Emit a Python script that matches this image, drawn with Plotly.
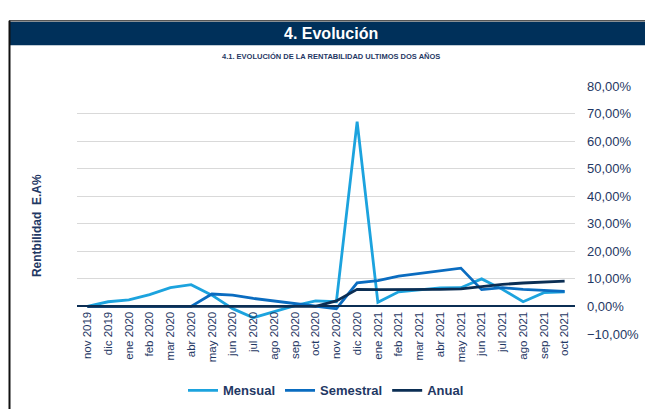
import plotly.graph_objects as go

categories = ["nov 2019", "dic 2019", "ene 2020", "feb 2020", "mar 2020", "abr 2020",
              "may 2020", "jun 2020", "jul 2020", "ago 2020", "sep 2020", "oct 2020",
              "nov 2020", "dic 2020", "ene 2021", "feb 2021", "mar 2021", "abr 2021",
              "may 2021", "jun 2021", "jul 2021", "ago 2021", "sep 2021", "oct 2021"]

mensual = [0.0, 1.7, 2.4, 4.3, 6.8, 7.9, 4.1, -0.8, -4.1, -2.0, 0.3, 2.0,
           1.7, 67.1, 1.5, 5.3, 6.1, 6.7, 6.8, 10.0, 6.2, 1.7, 5.0, 5.3]
semestral = [0.0, 0.0, 0.0, 0.0, 0.0, 0.0, 4.5, 4.1, 2.9, 2.0, 1.0, 0.2,
             -0.8, 8.6, 9.4, 11.0, 12.0, 13.0, 13.9, 6.1, 6.8, 6.2, 5.9, 5.5]
anual = [0.0, 0.0, 0.0, 0.0, 0.0, 0.0, 0.0, 0.0, 0.0, 0.0, 0.0, 0.0,
         2.0, 6.2, 6.1, 6.1, 6.2, 6.2, 6.4, 7.3, 8.0, 8.5, 8.8, 9.2]

y_ticks = [-10, 0, 10, 20, 30, 40, 50, 60, 70, 80]

NAVY = "#1F3864"
FONT = "Liberation Sans Narrow, Arial Narrow, Liberation Sans, sans-serif"

OFFX, OFFY = 8, 0
W, H = 653 - OFFX, 409 - OFFY
# plot area in page coords: x 77..575, y 78..333
L, R, T, B = 77 - OFFX, 653 - 575, 78 - OFFY, 409 - 333
pw, ph = W - L - R, H - T - B


def px(x):
    return (x - OFFX - L) / pw


def py(y):
    return (H - B - (y - OFFY)) / ph


fig = go.Figure()
series = [("Mensual", mensual, "#1CA3DE"),
          ("Semestral", semestral, "#0A6CC0"),
          ("Anual", anual, "#0B2E54")]
for name, vals, col in series:
    fig.add_trace(go.Scatter(x=categories, y=[v / 100 for v in vals], name="<b>%s</b>" % name,
                             mode="lines", line=dict(color=col, width=2.8)))

ymin, ymax = y_ticks[0] / 100, y_ticks[-1] / 100
zero_pos = (0 - ymin) / (ymax - ymin)

fig.update_layout(
    width=W, height=H,
    margin=dict(l=L, r=R, t=T, b=B),
    paper_bgcolor="white", plot_bgcolor="white",
    separators=",.",
    font=dict(family=FONT, color=NAVY),
    showlegend=True,
    legend=dict(orientation="h", x=px(326), xanchor="center", y=py(391), yanchor="middle",
                font=dict(size=13, color=NAVY, family=FONT), itemwidth=30,
                traceorder="normal"),
    xaxis=dict(type="category", anchor="free", position=zero_pos,
               range=[-0.5, len(categories) - 0.5],
               showline=True, linecolor="#0B2E54", linewidth=1.5,
               showgrid=False, tickangle=-90, ticks="",
               tickfont=dict(size=11.5, color=NAVY, family=FONT)),
    yaxis=dict(side="right", range=[ymin, ymax], tickvals=[v / 100 for v in y_ticks],
               tickformat=".2%", showgrid=True, gridcolor="#D9D9D9", gridwidth=1,
               zeroline=False, showline=False, ticks="", ticklabelstandoff=11,
               tickfont=dict(size=13, color=NAVY, family=FONT)),
)

shapes = [
    dict(type="rect", xref="paper", yref="paper", x0=px(9), x1=px(655), y0=py(36), y1=py(12),
         fillcolor="#00305A", line=dict(width=0), layer="below"),
    dict(type="line", xref="paper", yref="paper", x0=px(9), x1=px(655), y0=py(11), y1=py(11),
         line=dict(color="#555555", width=1.5)),
    dict(type="line", xref="paper", yref="paper", x0=px(9.5), x1=px(9.5), y0=py(11), y1=py(412),
         line=dict(color="#111111", width=2)),
]
fig.update_layout(shapes=shapes)

fig.add_annotation(text="<b>4. Evolución</b>", xref="paper", yref="paper",
                   x=px(331), y=py(24), showarrow=False, xanchor="center", yanchor="middle",
                   font=dict(size=16, color="white", family=FONT))
fig.add_annotation(text="<b>4.1. EVOLUCIÓN DE LA RENTABILIDAD ULTIMOS DOS AÑOS</b>", xref="paper",
                   yref="paper", x=px(331), y=py(48), showarrow=False, xanchor="center",
                   yanchor="middle", font=dict(size=7.5, color=NAVY, family=FONT))
fig.add_annotation(text="<b>Rentbilidad  E.A%</b>", xref="paper", yref="paper",
                   x=px(37), y=py(222), showarrow=False, textangle=-90,
                   xanchor="center", yanchor="middle",
                   font=dict(size=12, color=NAVY, family=FONT))

fig.write_html("out.html")
